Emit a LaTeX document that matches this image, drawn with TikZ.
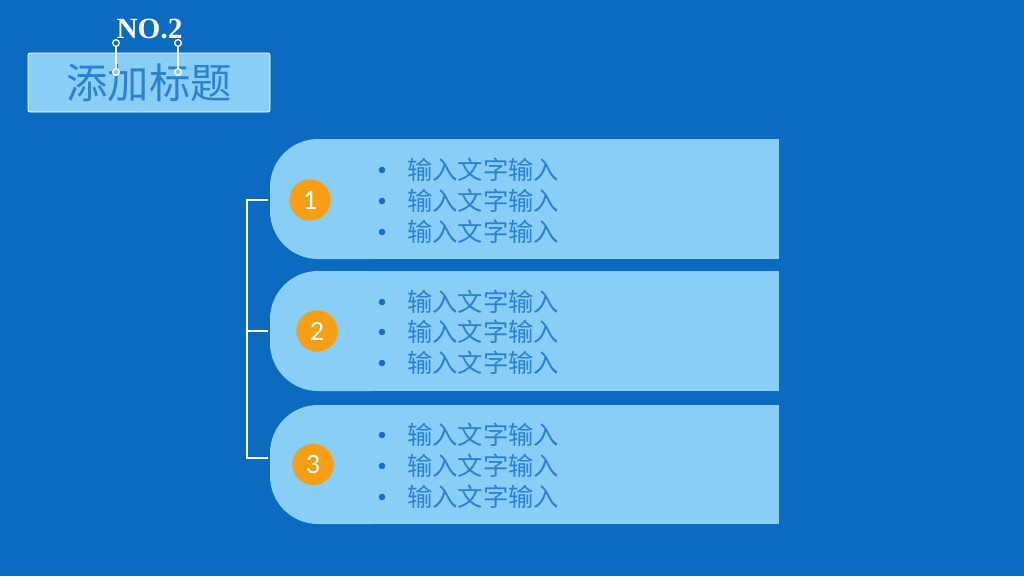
\documentclass[tikz,border=0pt]{standalone}
\usepackage{fontspec}
\setmainfont{Liberation Serif}
\newfontfamily\cjk{Noto Sans CJK SC}
\newfontfamily\numfont{Carlito}
\definecolor{bgblue}{RGB}{10,107,192}
\definecolor{paleblue}{RGB}{136,206,246}
\definecolor{txtblue}{RGB}{42,130,208}
\definecolor{dotblue}{RGB}{22,112,198}
\definecolor{orng}{RGB}{246,158,20}
\tikzset{
  titlebox/.style={draw=white, line width=0.6pt, fill=paleblue, rounded corners=1.5pt,
    minimum width=181.5pt, minimum height=44.25pt, inner sep=0pt,
    text=txtblue, font=\cjk\fontsize{31}{31}\selectfont},
  pinend/.style={circle, draw=white, line width=1pt, inner sep=0pt, minimum size=5pt},
  pinline/.style={white, line width=1.2pt},
  num/.style={circle, fill=orng, minimum size=31pt, inner sep=0pt,
    text=white, font=\numfont\fontsize{21}{21}\selectfont},
  item/.style={anchor=west, inner sep=0pt, text=txtblue, font=\cjk\fontsize{19}{19}\selectfont},
  brk/.style={white, line width=2pt},
  brktick/.style={white, line width=1.2pt}
}
\begin{document}
\begin{tikzpicture}[x=0.75pt,y=-0.75pt]
  \useasboundingbox (0,0) rectangle (1024,576);
  \fill[bgblue] (0,0) rectangle (1024,576);

  % title
  \node[titlebox] (title) at (149,82.5) {添加标题};
  \node[white, inner sep=0pt, font=\bfseries\fontsize{22}{22}\selectfont] (no) at (149.5,29) {NO.2};
  \node[pinend, fill=bgblue] (pa1) at (116,43) {};
  \node[pinend, fill=paleblue] (pa2) at (116,72) {};
  \node[pinend, fill=bgblue] (pb1) at (178,43) {};
  \node[pinend, fill=paleblue] (pb2) at (178,72) {};
  \draw[pinline] (pa1) -- (pa2);
  \draw[pinline] (pb1) -- (pb2);

  % bands
  \foreach \t/\b in {139/259, 271/391, 405/524} {
    \fill[paleblue, rounded corners=36pt] (270,\t) rectangle (420,\b);
    \fill[paleblue] (366,\t) rectangle (779,\b);
  }

  % bracket
  \coordinate (t1) at (268,200);
  \coordinate (t2) at (268,331);
  \coordinate (t3) at (268,458);
  \draw[brk] (t1) -- (247,200) -- (247,458) -- (t3);
  \draw[brktick] (247,331) -- (t2);

  % numbers
  \node[num] (n1) at (310,200) {1};
  \node[num] (n2) at (317,331) {2};
  \node[num] (n3) at (313,464.5) {3};

  % bullet lines
  \foreach \y in {170,201,232,302,332,363,435,466,497} {
    \fill[dotblue] (382,\y) circle (3.3);
    \node[item] (l\y) at (407,\y) {输入文字输入};
  }
\end{tikzpicture}
\end{document}
